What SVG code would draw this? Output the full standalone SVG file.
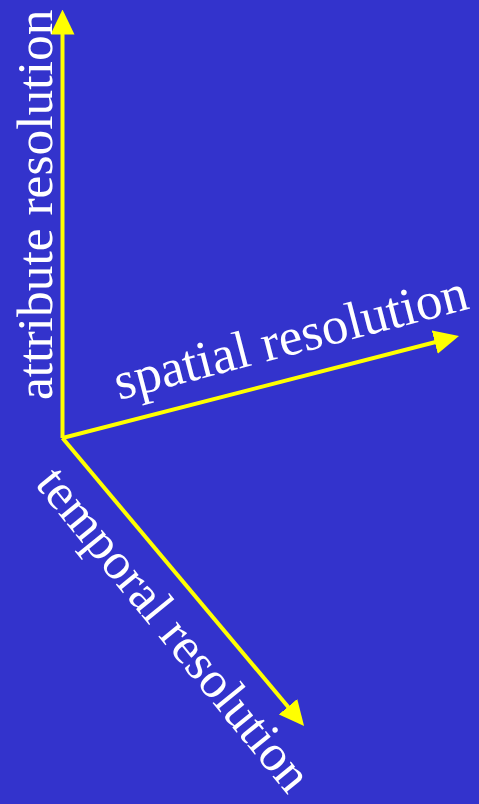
<svg xmlns="http://www.w3.org/2000/svg" width="479" height="804" viewBox="0 0 479 804">
<style>
.lbl{font-family:"Liberation Serif","Times New Roman",serif;font-size:50px;fill:#ffffff}
.ax{stroke:#ffff00;stroke-width:4;fill:none;marker-end:url(#ah)}
</style>
<defs>
<marker id="ah" markerUnits="userSpaceOnUse" markerWidth="25" markerHeight="24" refX="2" refY="12" orient="auto" viewBox="0 0 25 24">
<path d="M0,0 L25,12 L0,24 z" fill="#ffff00"/>
</marker>
</defs>
<rect width="479" height="804" fill="#3333cc"/>
<g id="connectors">
<line class="ax" x1="62.5" y1="438" x2="62.5" y2="32.5"/>
<line class="ax" x1="62.5" y1="438" x2="436.7" y2="341.7"/>
<line class="ax" x1="62.5" y1="438" x2="289.3" y2="708.3"/>
</g>
<g id="attribute"><text class="lbl" style="font-size:51.5px" transform="translate(52,400) rotate(-90)">attribute resolution</text></g>
<g id="spatial"><text class="lbl" style="font-size:53px" transform="translate(119,400) rotate(-14.6)">spatial resolution</text></g>
<g id="temporal"><text class="lbl" style="font-size:51.5px" transform="translate(34,484) rotate(50.8)">temporal resolution</text></g>
</svg>
